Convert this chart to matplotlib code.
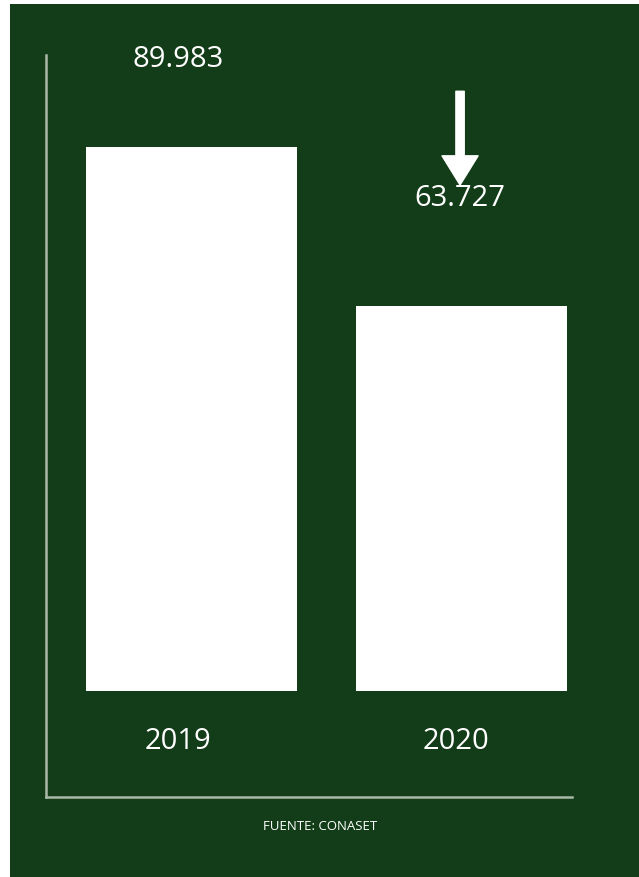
import matplotlib.pyplot as plt
from matplotlib.patches import Rectangle

years = ['2019', '2020']
values = [89983, 63727]
source = 'FUENTE: CONASET'

green = '#133c18'
axis_col = '#a9b9a8'

plt.rcParams['font.family'] = ['Open Sans', 'DejaVu Sans']

fig = plt.figure(figsize=(6.39, 8.77), dpi=100, facecolor='white')
# green panel with a thin white margin on the left and top
fig.patches.append(Rectangle((10 / 639, 0), 1, 1 - 4 / 877, transform=fig.transFigure,
                             facecolor=green, edgecolor='none', zorder=-10))

ax = fig.add_axes([46 / 639, 1 - 797 / 877, 526 / 639, 742 / 877])
ax.patch.set_alpha(0)

x = [0, 1]
ax.bar(x, values, width=0.78, color='white', zorder=2)

ax.set_xlim(-0.54, 1.41)
ax.set_ylim(-17534, 105200)

for s in ['top', 'right']:
    ax.spines[s].set_visible(False)
for s in ['left', 'bottom']:
    ax.spines[s].set_color(axis_col)
    ax.spines[s].set_linewidth(1.8)
ax.set_xticks([])
ax.set_yticks([])

def fmt(v):
    return f'{v:,}'.replace(',', '.')

# value labels
ax.text(-0.05, 104500, fmt(values[0]), color='white', fontsize=21,
        ha='center', va='center', clip_on=False)
ax.text(0.995, 81500, fmt(values[1]), color='white', fontsize=21,
        ha='center', va='center')

# year labels
for xi, yr in zip(x, years):
    ax.text(xi - 0.05 if xi == 0 else xi - 0.02, -8400, yr, color='white',
            fontsize=21, ha='center', va='center')

# down arrow above 2020
ax.annotate('', xy=(0.995, 83700), xytext=(0.995, 99200),
            arrowprops=dict(arrowstyle='simple,head_width=1.3,head_length=1.05,tail_width=0.3',
                            color='white', mutation_scale=20, shrinkA=0, shrinkB=0),
            zorder=5)

fig.text(320 / 639, 1 - 827 / 877, source, color='white', fontsize=9.5,
         ha='center', va='center')

fig.savefig('out.png', dpi=100, facecolor=fig.get_facecolor())
